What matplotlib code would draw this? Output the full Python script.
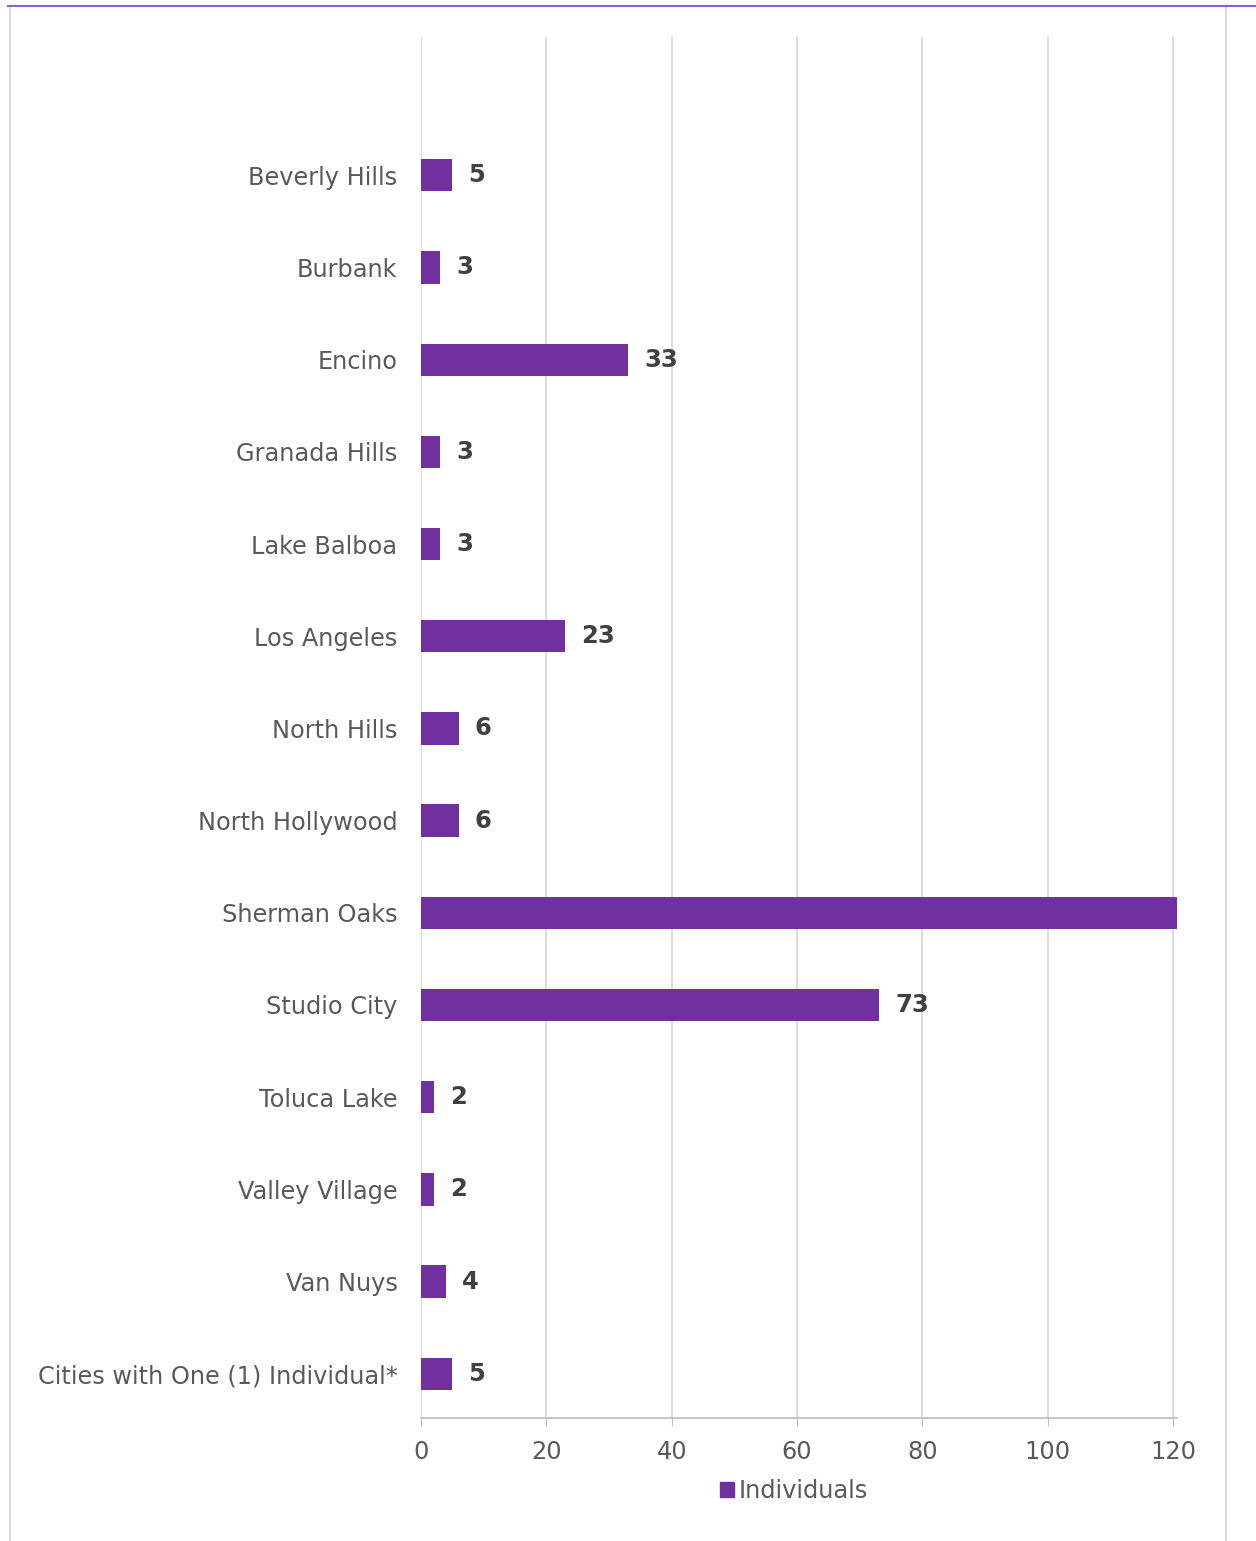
import matplotlib.pyplot as plt
from matplotlib.patches import Rectangle
from matplotlib.lines import Line2D

cities = ['Beverly Hills', 'Burbank', 'Encino', 'Granada Hills', 'Lake Balboa',
          'Los Angeles', 'North Hills', 'North Hollywood', 'Sherman Oaks',
          'Studio City', 'Toluca Lake', 'Valley Village', 'Van Nuys',
          'Cities with One (1) Individual*']
individuals = [5, 3, 33, 3, 3, 23, 6, 6, 130, 73, 2, 2, 4, 5]
xticks = [0, 20, 40, 60, 80, 100, 120]

purple = '#7030A0'
fig = plt.figure(figsize=(12.56, 15.41), dpi=100)
ax = fig.add_axes([421 / 1256, 1 - 1418 / 1541, (1177 - 421) / 1256, (1418 - 37) / 1541])

n = len(cities)
ypos = [n - 1 - i for i in range(n)]
ax.barh(ypos, individuals, height=0.35, color=purple, label='Individuals', zorder=3)

xmax = 120.6
for y, v in zip(ypos, individuals):
    if v < xmax:
        ax.text(v + 2.6, y, str(v), va='center', ha='left', fontsize=17.5,
                fontweight='bold', color='#404040')

ax.set_xlim(0, xmax)
ax.set_ylim(-0.48, n - 1 + 1.5)
ax.set_yticks(ypos)
ax.set_yticklabels(cities, fontsize=17.3, color='#595959')
ax.set_xticks(xticks)
ax.set_xticklabels([str(t) for t in xticks], fontsize=17.3, color='#595959')
ax.tick_params(axis='y', length=0, pad=17)
ax.tick_params(axis='x', length=6, color='#BFBFBF', pad=10)
ax.grid(axis='x', color='#D9D9D9', linewidth=1.3, zorder=0)
for s in ['top', 'right', 'left']:
    ax.spines[s].set_visible(False)
ax.spines['bottom'].set_color('#BFBFBF')
ax.spines['bottom'].set_linewidth(1.3)

fig.legend(handles=[Rectangle((0, 0), 1, 1, color=purple)], labels=['Individuals'],
           loc='center', bbox_to_anchor=(794 / 1256, 1 - 1491 / 1541), frameon=False,
           fontsize=17.3, handlelength=0.55, handleheight=0.55, handletextpad=0.2,
           labelcolor='#595959')

# outer frame
fig.add_artist(Line2D([10 / 1256, 10 / 1256], [0, 1 - 7 / 1541], color='#D9D9D9', lw=1.5,
                      transform=fig.transFigure))
fig.add_artist(Line2D([1226 / 1256, 1226 / 1256], [0, 1 - 7 / 1541], color='#D9D9D9', lw=1.5,
                      transform=fig.transFigure))
fig.add_artist(Line2D([8 / 1256, 1], [1 - 6 / 1541, 1 - 6 / 1541], color='#9B59D0', lw=1.5,
                      transform=fig.transFigure))

fig.savefig('out.png', dpi=100)
